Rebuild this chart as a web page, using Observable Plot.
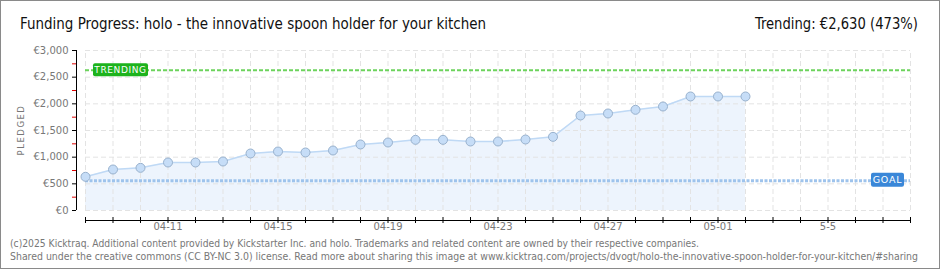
<!DOCTYPE html>
<html><head><meta charset="utf-8">
<script src="https://cdn.jsdelivr.net/npm/d3@7"></script>
<script src="https://cdn.jsdelivr.net/npm/@observablehq/plot@0.6"></script>
<style>body{margin:0;background:#fff} #chart svg{display:block}</style>
</head><body><div id="chart"></div>
<script>
// ---- data ----
const dates = ["2025-04-08","2025-04-09","2025-04-10","2025-04-11","2025-04-12","2025-04-13","2025-04-14","2025-04-15","2025-04-16","2025-04-17","2025-04-18","2025-04-19","2025-04-20","2025-04-21","2025-04-22","2025-04-23","2025-04-24","2025-04-25","2025-04-26","2025-04-27","2025-04-28","2025-04-29","2025-04-30","2025-05-01","2025-05-02"];
const pledged = [632, 769, 800, 900, 900, 919, 1069, 1106, 1088, 1125, 1238, 1275, 1325, 1325, 1294, 1294, 1331, 1381, 1781, 1819, 1888, 1950, 2138, 2138, 2138];
const goal = 556;
const trending = 2630;
const periodStart = "2025-04-08";
const periodEnd = "2025-05-08";
const yTicks = [0, 500, 1000, 1500, 2000, 2500, 3000];
const yMinorTicks = [250, 750, 1250, 1750, 2250, 2750];
const xTickDates = ["2025-04-11","2025-04-15","2025-04-19","2025-04-23","2025-04-27","2025-05-01","2025-05-05"];
const xTickLabels = ["04-11","04-15","04-19","04-23","04-27","05-01","5-5"];
const titleText = "Funding Progress: holo - the innovative spoon holder for your kitchen";
const trendText = "Trending: €2,630 (473%)";
const yLabel = "PLEDGED";
const footer1 = "(c)2025 Kicktraq. Additional content provided by Kickstarter Inc. and holo. Trademarks and related content are owned by their respective companies.";
const footer2 = "Shared under the creative commons (CC BY-NC 3.0) license. Read more about sharing this image at www.kicktraq.com/projects/dvogt/holo-the-innovative-spoon-holder-for-your-kitchen/#sharing";

// ---- build ----
const parse = d3.utcParse("%Y-%m-%d");
const data = dates.map((d, i) => ({date: parse(d), value: pledged[i]}));
const x0 = parse(periodStart), x1 = parse(periodEnd);
const allDays = d3.utcDay.range(x0, d3.utcDay.offset(x1, 1));
const xTicks = xTickDates.map(parse);
const euro = d => "€" + d3.format(",")(d);
const gridColor = "#e3e3e3";

function annotations(index, scales, values, dims) {
  const g = d3.create("svg:g");
  const W = dims.width, H = dims.height;
  // border
  g.append("rect").attr("x", 0.5).attr("y", 0.5).attr("width", W - 1).attr("height", H - 2)
    .attr("fill", "none").attr("stroke", "#8a8a8a");
  // title
  g.append("text").attr("x", 20).attr("y", 29).attr("text-anchor", "start").attr("font-family", "DejaVu Sans Condensed")
    .attr("font-size", 15).attr("fill", "#111").attr("textLength", 466).attr("lengthAdjust", "spacingAndGlyphs")
    .text(titleText);
  g.append("text").attr("x", 918).attr("y", 29).attr("text-anchor", "end").attr("font-family", "DejaVu Sans Condensed")
    .attr("font-size", 15).attr("fill", "#111").attr("textLength", 163).attr("lengthAdjust", "spacingAndGlyphs")
    .text(trendText);
  // y label
  g.append("text").attr("transform", "translate(24,130) rotate(-90)").attr("text-anchor", "middle")
    .attr("font-family", "DejaVu Sans").attr("font-size", 8.5).attr("letter-spacing", 1.5).attr("fill", "#777")
    .text(yLabel);
  // footer
  g.append("text").attr("x", 10).attr("y", 247).attr("text-anchor", "start").attr("font-family", "DejaVu Sans Condensed").attr("font-size", 10.5)
    .attr("fill", "#777").attr("textLength", 689).attr("lengthAdjust", "spacingAndGlyphs").text(footer1);
  g.append("text").attr("x", 10).attr("y", 260).attr("text-anchor", "start").attr("font-family", "DejaVu Sans Condensed").attr("font-size", 10.5)
    .attr("fill", "#777").attr("textLength", 908).attr("lengthAdjust", "spacingAndGlyphs").text(footer2);
  // trending label
  const yT = scales.y(trending), xs = scales.x(x0), xe = scales.x(x1), yG = scales.y(goal);
  g.append("rect").attr("x", xs + 8).attr("y", yT - 6.5).attr("width", 55).attr("height", 13).attr("rx", 2)
    .attr("fill", "#1db31d");
  g.append("text").attr("x", xs + 35.5).attr("y", yT).attr("dy", "0.35em").attr("text-anchor", "middle")
    .attr("font-family", "DejaVu Sans").attr("font-size", 9).attr("fill", "#fff")
    .attr("letter-spacing", 0.6).text("TRENDING");
  // goal label
  g.append("rect").attr("x", xe - 39).attr("y", yG - 7.5).attr("width", 33).attr("height", 14).attr("rx", 2)
    .attr("fill", "#3a87d8");
  g.append("text").attr("x", xe - 22.5).attr("y", yG - 0.5).attr("dy", "0.35em").attr("text-anchor", "middle")
    .attr("font-family", "DejaVu Sans").attr("font-size", 9.5).attr("fill", "#fff")
    .attr("letter-spacing", 0.8).text("GOAL");
  return g.node();
}

const chart = Plot.plot({
  width: 940, height: 270,
  marginLeft: 85, marginRight: 30, marginTop: 50, marginBottom: 60,
  style: {fontFamily: "DejaVu Sans", fontSize: "10px", background: "#fff"},
  x: {type: "utc", domain: [x0, x1], axis: null},
  y: {domain: [0, 3000], axis: null},
  marks: [
    Plot.areaY(data, {x: "date", y: "value", fill: "#edf4fd"}),
    Plot.ruleX(allDays, {y1: 0, y2: 3000, stroke: gridColor, strokeDasharray: "5,3"}),
    Plot.ruleY(yTicks, {stroke: gridColor, strokeDasharray: "5,3"}),
    Plot.ruleY([trending], {stroke: "#6cd35c", strokeWidth: 2, strokeDasharray: "4,2"}),
    Plot.ruleY([goal], {stroke: "#9ec3ec", strokeWidth: 3, strokeDasharray: "3,1.5"}),
    Plot.lineY(data, {x: "date", y: "value", stroke: "#bfd9f5", strokeWidth: 1.5}),
    Plot.dot(data, {x: "date", y: "value", r: 4.5, fill: "#c6ddf7", stroke: "#98b1cd", strokeWidth: 1}),
    // y axis
    Plot.ruleX([x0], {y1: 0, y2: 3000, dx: -9, stroke: "#000"}),
    Plot.axisY(yMinorTicks, {anchor: "left", tickSize: 4, dx: -9, stroke: "#e00000", tickFormat: () => "", label: null}),
    Plot.axisY(yTicks, {anchor: "left", tickSize: 4, dx: -9, stroke: "#000", tickFormat: () => "", label: null}),
    Plot.text(yTicks, {y: d => d, frameAnchor: "left", dx: -17, textAnchor: "end", fill: "#777", text: euro}),
    // x axis
    Plot.ruleY([0], {dy: 10, stroke: "#000"}),
    Plot.axisX(allDays, {anchor: "bottom", tickSize: 6, dy: 7, stroke: "#000", tickFormat: () => "", label: null}),
    Plot.text(xTicks, {x: d => d, frameAnchor: "bottom", dy: 19, fill: "#777", text: (d, i) => xTickLabels[i]}),
    annotations
  ]
});
document.getElementById("chart").append(chart);
</script>
</body></html>
